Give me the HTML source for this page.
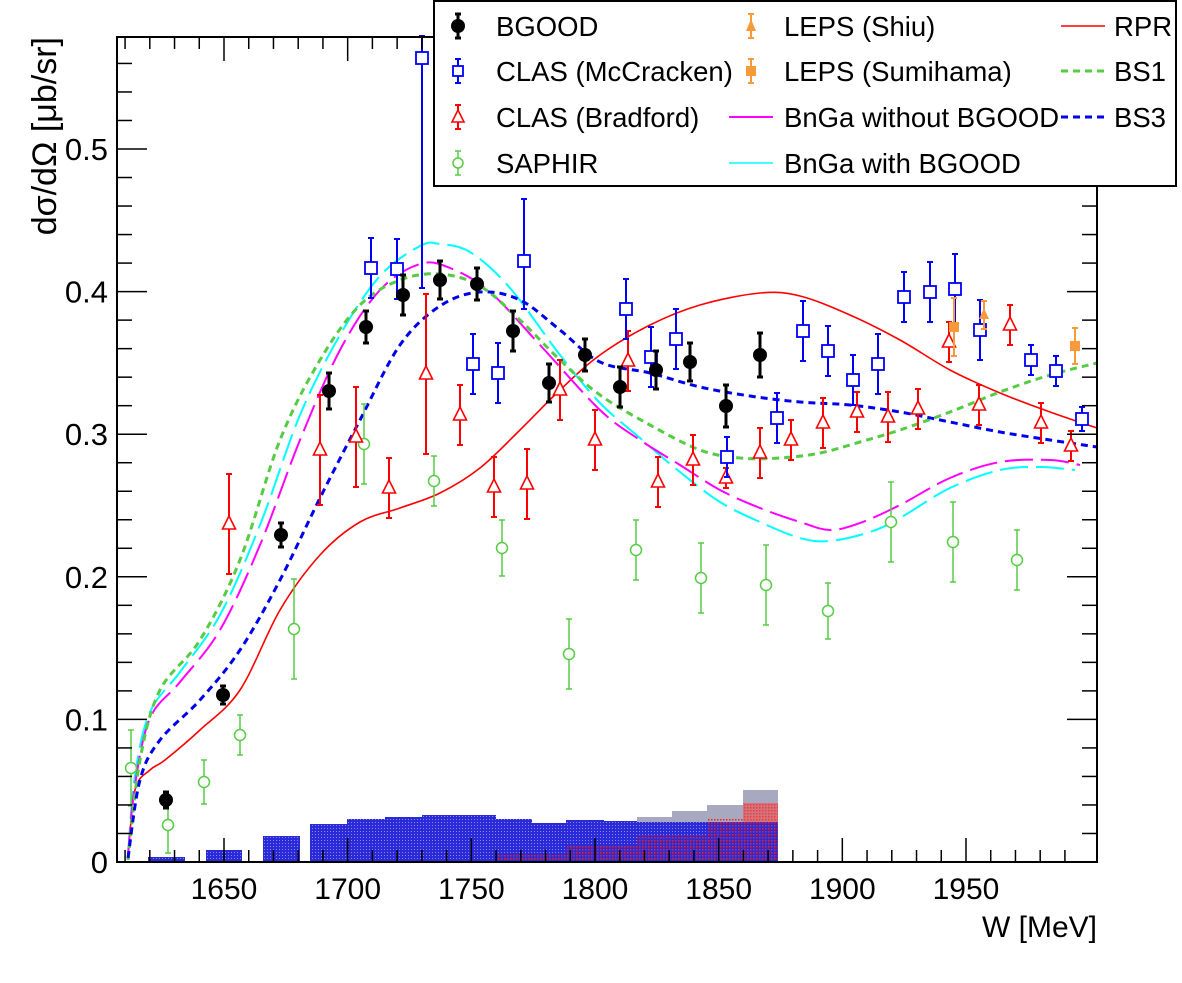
<!DOCTYPE html>
<html><head><meta charset="utf-8"><style>
html,body{margin:0;padding:0;background:#fff}
svg text{font-family:"Liberation Sans",sans-serif}
</style></head><body>
<svg id="s" width="1182" height="978" xmlns="http://www.w3.org/2000/svg"></svg>
<script>
const s=document.getElementById('s');let h='';
const L=117,R=1097,T=37,B=862;
h+=`<defs><pattern id="pb" width="3" height="3" patternUnits="userSpaceOnUse"><rect width="3" height="3" fill="#2a2ad8"/><rect width="1" height="1" fill="#8888ee"/></pattern>
<pattern id="pr" width="3" height="3" patternUnits="userSpaceOnUse"><rect width="1.5" height="1.5" fill="#f02020"/></pattern></defs>`;
const bars=[[148,185,857],[206,242,850],[263,300,836],[310,347,824],[347,385,819],[385,422,817],[422,496,815],[496,532,819],[532,566,823],[566,604,820],[604,637,821],[637,672,822],[672,707,822],[707,743,822],[743,778,822]];
const gray=[[604,637,821],[637,672,817],[672,707,811],[707,743,805],[743,778,790]];
gray.forEach(b=>h+=`<rect x="${b[0]}" y="${b[2]}" width="${b[1]-b[0]}" height="${B-b[2]}" fill="#a8a8c0"/>`);
bars.forEach(b=>h+=`<rect x="${b[0]}" y="${b[2]}" width="${b[1]-b[0]}" height="${B-b[2]}" fill="url(#pb)"/>`);
[[496,566,855],[566,637,845],[637,707,835],[707,743,818],[743,778,803]].forEach(b=>h+=`<rect x="${b[0]}" y="${b[2]}" width="${b[1]-b[0]}" height="${B-b[2]}" fill="url(#pr)"/>`);
[[743,778,803,822]].forEach(b=>h+=`<rect x="${b[0]}" y="${b[2]}" width="${b[1]-b[0]}" height="${b[3]-b[2]}" fill="#ee5050" opacity=".6"/>`);
function path(pts,st){let d='M'+pts[0].join(',');for(let i=1;i<pts.length;i++){const p0=pts[Math.max(i-2,0)],p1=pts[i-1],p2=pts[i],p3=pts[Math.min(i+1,pts.length-1)];
d+=` C${p1[0]+(p2[0]-p0[0])/6},${p1[1]+(p2[1]-p0[1])/6} ${p2[0]-(p3[0]-p1[0])/6},${p2[1]-(p3[1]-p1[1])/6} ${p2[0]},${p2[1]}`;}
h+=`<path d="${d}" fill="none" ${st}/>`;}
path([[128,858],[135,790],[150,770],[165,760],[200,730],[240,690],[280,610],[320,555],[360,522],[400,508],[440,493],[480,468],[520,430],[560,390],[600,355],[650,325],[700,305],[760,293],[800,296],[850,315],[900,340],[950,370],[1000,393],[1050,412],[1097,428]],'stroke="#f00" stroke-width="1.6"');
path([[128,855],[135,775],[150,712],[180,672],[220,615],[260,525],[300,415],[340,335],[380,276],[420,246],[440,244],[470,252],[510,288],[560,355],[600,403],[640,438],[680,472],[720,502],[760,522],[800,538],[830,541],[870,532],[900,518],[950,488],[1000,470],[1040,467],[1075,470]],'stroke="#0ff" stroke-width="2" stroke-dasharray="28,8"');
path([[128,855],[135,785],[150,718],[180,682],[220,630],[260,545],[300,440],[340,350],[380,290],[420,264],[450,268],[490,292],[540,345],[600,410],[640,440],[680,465],[720,490],[760,508],[800,522],[830,530],[860,523],[900,505],[950,478],[1000,462],[1050,460],[1080,465]],'stroke="#f0f" stroke-width="2" stroke-dasharray="28,8"');
path([[128,860],[140,760],[160,690],[200,640],[240,560],[280,440],[320,360],[360,305],[400,280],[440,274],[480,286],[520,320],[560,360],[600,395],[650,425],[700,450],[740,458],[780,458],[820,453],[860,442],[900,430],[950,412],[1000,392],[1050,375],[1097,363]],'stroke="#55cc44" stroke-width="3" stroke-dasharray="7,5"');
path([[128,858],[140,780],[160,740],[200,700],[240,650],[280,580],[320,498],[360,420],[400,345],[440,306],[480,292],[520,300],[560,330],[600,362],[650,373],[700,387],[750,396],[800,402],[850,405],[900,412],[950,422],[1000,432],[1050,440],[1097,447]],'stroke="#0000ee" stroke-width="3" stroke-dasharray="7,5"');
function eb(x,y,e,c,w,e2){const lo=e2===undefined?e:e2;h+=`<line x1="${x}" y1="${y-e}" x2="${x}" y2="${y+lo}" stroke="${c}" stroke-width="${w}"/><line x1="${x-3}" y1="${y-e}" x2="${x+3}" y2="${y-e}" stroke="${c}" stroke-width="${w}"/><line x1="${x-3}" y1="${y+lo}" x2="${x+3}" y2="${y+lo}" stroke="${c}" stroke-width="${w}"/>`;}
const sap=[[131,768,38],[168,825,28],[204,782,22],[240,735,20],[294,629,50],[364,444,40],[434,481,25],[502,548,28],[569,654,35],[636,550,30],[701,578,35],[766,585,40],[828,611,28],[891,522,40],[953,542,40],[1017,560,30]];
sap.forEach(p=>{eb(p[0],p[1],p[2],'#55cc44',1.5);h+=`<circle cx="${p[0]}" cy="${p[1]}" r="5.5" fill="#fff" stroke="#55cc44" stroke-width="1.5"/>`;});
const br=[[229,524,50],[320,450,55],[356,437,50],[389,488,30],[426,374,80],[460,415,30],[494,487,30],[527,484,35],[560,390,30],[595,440,30],[628,361,30],[658,482,25],[693,460,25],[726,478,10],[760,453,25],[791,440,20],[823,423,25],[857,412,20],[888,417,25],[918,409,20],[949,342,20],[979,405,20],[1010,325,20],[1041,423,20],[1071,446,15]];
br.forEach(p=>{eb(p[0],p[1],p[2],'#f00',2);h+=`<polygon points="${p[0]},${p[1]-8} ${p[0]-6.5},${p[1]+5} ${p[0]+6.5},${p[1]+5}" fill="#fff" stroke="#f00" stroke-width="1.6"/>`;});
const mc=[[371,268,30],[397,269,30],[422,58,22,230],[473,364,30],[498,373,30],[524,261,62,48],[626,309,30],[651,357,30],[676,339,30],[727,457,20],[777,418,25],[803,331,30],[828,351,25],[853,380,25],[878,364,30],[904,297,25],[930,292,30],[955,289,35],[980,330,30],[1031,360,15],[1056,371,15],[1082,419,12]];
mc.forEach(p=>{eb(p[0],p[1],p[2],'#00f',2,p[3]);h+=`<rect x="${p[0]-6}" y="${p[1]-6}" width="12" height="12" fill="#fff" stroke="#00f" stroke-width="1.8"/>`;});
eb(954,327,29,'#f99a3a',2);h+=`<rect x="949" y="322" width="10" height="10" fill="#f99a3a"/>`;
eb(1075,346,18,'#f99a3a',2);h+=`<rect x="1070" y="341" width="10" height="10" fill="#f99a3a"/>`;
eb(984,315,14,'#f99a3a',2);h+=`<polygon points="984,308 979,319 989,319" fill="#f99a3a"/>`;
const bg=[[166,800,8],[223,695,9],[281,535,12],[329,391,18],[366,327,16],[403,295,20],[440,280,19],[477,284,16],[513,331,20],[549,383,19],[585,355,16],[620,387,20],[656,370,19],[690,362,19],[726,406,21],[760,355,22]];
bg.forEach(p=>{eb(p[0],p[1],p[2],'#000',3);h+=`<circle cx="${p[0]}" cy="${p[1]}" r="7" fill="#000"/>`;});
h+=`<rect x="${L}" y="${T}" width="${R-L}" height="${B-T}" fill="none" stroke="#000" stroke-width="2"/>`;
for(let i=0;i<=29;i++){const y=B-i*0.02*1426;if(y<T)break;const big=i%5==0;const len=big?30:15;
h+=`<line x1="${L}" y1="${y}" x2="${L+len}" y2="${y}" stroke="#000" stroke-width="1.5"/><line x1="${R}" y1="${y}" x2="${R-len}" y2="${y}" stroke="#000" stroke-width="1.5"/>`;
if(big)h+=`<text x="108" y="${y+11}" font-size="31" text-anchor="end">${i==0?'0':(i/50).toFixed(1)}</text>`;}
for(let W=1610;W<=1990;W+=10){const x=224+(W-1650)*2.4733;const big=W%50==0;const len=big?24:12;
h+=`<line x1="${x}" y1="${B}" x2="${x}" y2="${B-len}" stroke="#000" stroke-width="1.5"/><line x1="${x}" y1="${T}" x2="${x}" y2="${T+len}" stroke="#000" stroke-width="1.5"/>`;
if(big)h+=`<text x="${x}" y="899" font-size="30" text-anchor="middle">${W}</text>`;}
h+=`<text x="1097" y="937" font-size="30" text-anchor="end">W [MeV]</text>`;
h+=`<text transform="translate(56,37) rotate(-90)" font-size="34" text-anchor="end">dσ/dΩ [μb/sr]</text>`;
h+=`<rect x="434" y="1" width="742" height="185" fill="#fff" stroke="#000" stroke-width="2"/>`;
function lt(x,y,t){h+=`<text x="${x}" y="${y+10}" font-size="27.5">${t}</text>`;}
eb(458,26,12,'#000',3);h+=`<circle cx="458" cy="26" r="7" fill="#000"/>`;lt(496,26,'BGOOD');
eb(458,71,12,'#00f',2);h+=`<rect x="453" y="66" width="10" height="10" fill="#fff" stroke="#00f" stroke-width="1.8"/>`;lt(496,71,'CLAS (McCracken)');
eb(458,117,12,'#f00',2);h+=`<polygon points="458,110 452,122 464,122" fill="#fff" stroke="#f00" stroke-width="1.6"/>`;lt(496,117,'CLAS (Bradford)');
eb(458,163,12,'#55cc44',1.5);h+=`<circle cx="458" cy="163" r="5" fill="#fff" stroke="#55cc44" stroke-width="1.5"/>`;lt(496,163,'SAPHIR');
eb(751,26,12,'#f99a3a',2);h+=`<polygon points="751,19 746,31 756,31" fill="#f99a3a"/>`;lt(784,26,'LEPS (Shiu)');
eb(751,71,12,'#f99a3a',2);h+=`<rect x="746" y="66" width="10" height="10" fill="#f99a3a"/>`;lt(784,71,'LEPS (Sumihama)');
h+=`<line x1="729" y1="117" x2="773" y2="117" stroke="#f0f" stroke-width="2"/>`;lt(784,117,'BnGa without BGOOD');
h+=`<line x1="729" y1="163" x2="773" y2="163" stroke="#0ff" stroke-width="1.5"/>`;lt(784,163,'BnGa with BGOOD');
h+=`<line x1="1061" y1="26" x2="1105" y2="26" stroke="#f00" stroke-width="1.5"/>`;lt(1114,26,'RPR');
h+=`<line x1="1061" y1="71" x2="1105" y2="71" stroke="#55cc44" stroke-width="3" stroke-dasharray="7,5"/>`;lt(1114,71,'BS1');
h+=`<line x1="1061" y1="117" x2="1105" y2="117" stroke="#0000ee" stroke-width="3" stroke-dasharray="7,5"/>`;lt(1114,117,'BS3');
s.innerHTML=h;
</script>
</body></html>
